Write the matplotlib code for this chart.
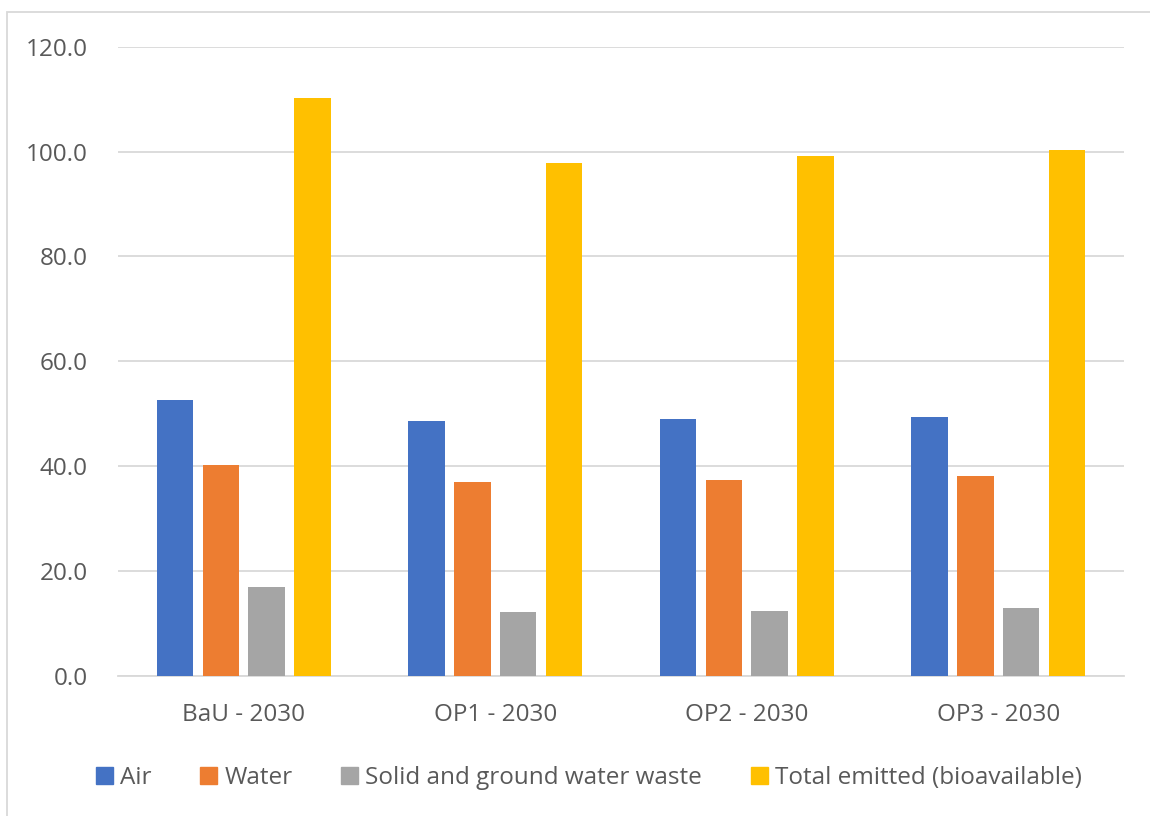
import matplotlib
matplotlib.use("Agg")
import matplotlib.pyplot as plt
import numpy as np
from matplotlib.patches import Rectangle, Patch

plt.rcParams['font.family'] = ['Open Sans', 'DejaVu Sans']

scenarios = ['BaU - 2030', 'OP1 - 2030', 'OP2 - 2030', 'OP3 - 2030']
series_names = ['Air', 'Water', 'Solid and ground water waste', 'Total emitted (bioavailable)']
air = [52.7, 48.7, 49.1, 49.5]
water = [40.3, 37.0, 37.4, 38.1]
solid = [17.0, 12.2, 12.5, 13.0]
total = [110.1, 97.8, 99.1, 100.3]
colors = ['#4472C4', '#ED7D31', '#A5A5A5', '#FFC000']
yticks = [0, 20, 40, 60, 80, 100, 120]

text_col = '#595959'
grid_col = '#D9D9D9'

fig = plt.figure(figsize=(11.5, 8.16), dpi=100)
ax = fig.add_axes([0.1026, 0.171, 0.8748, 0.772])

x = np.arange(len(scenarios))
width = 0.145
offsets = [-0.273, -0.091, 0.091, 0.273]
for vals, off, c, name in zip([air, water, solid, total], offsets, colors, series_names):
    ax.bar(x + off, vals, width, color=c, label=name, zorder=3)

ax.set_xlim(-0.5, 3.5)
ax.set_ylim(0, 120)
ax.set_yticks(yticks)
ax.set_yticklabels([f'{v:.1f}' for v in yticks], fontsize=17.5, color=text_col)
ax.set_xticks(x)
ax.set_xticklabels(scenarios, fontsize=17.5, color=text_col)
ax.tick_params(axis='y', length=0, pad=22)
ax.tick_params(axis='x', length=0, pad=19)
ax.grid(axis='y', color=grid_col, linewidth=1.3, zorder=0)
for s in ['top', 'right', 'left']:
    ax.spines[s].set_visible(False)
ax.spines['bottom'].set_color(grid_col)
ax.spines['bottom'].set_linewidth(1.3)

handles = [Patch(color=c) for c in colors]
leg = fig.legend(handles, series_names, loc='center', bbox_to_anchor=(0.512, 0.046),
                 ncol=4, frameon=False, fontsize=17.5, handlelength=0.7, handleheight=0.7,
                 handletextpad=0.3, columnspacing=2.0)
for t in leg.get_texts():
    t.set_color(text_col)

# chart border
fig.patches.append(Rectangle((0.006, -0.05), 1.1, 1.035, transform=fig.transFigure,
                             fill=False, edgecolor=grid_col, linewidth=1.3))

fig.savefig('out.png', dpi=100)
